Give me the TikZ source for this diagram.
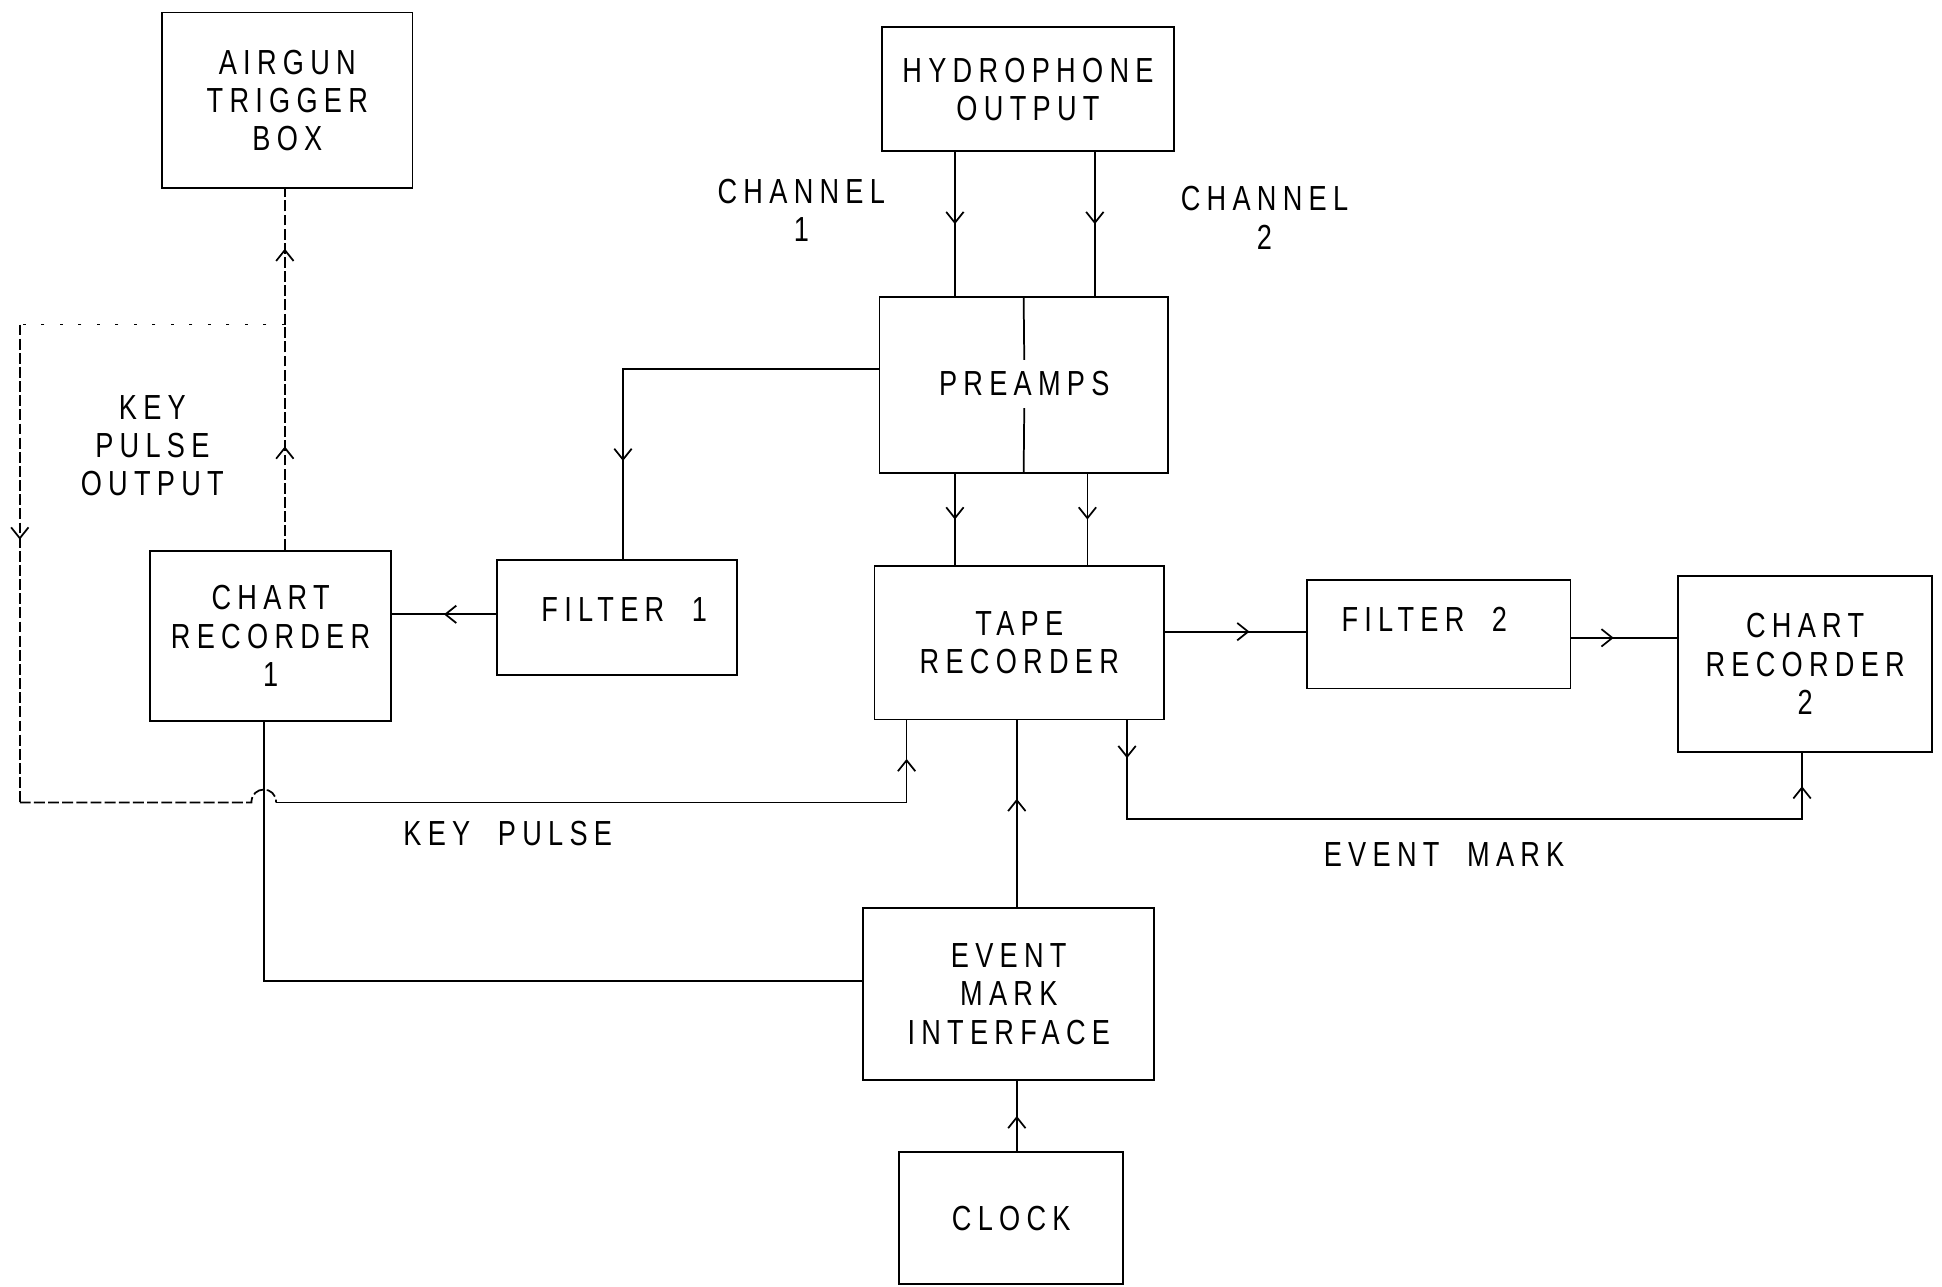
\documentclass[tikz,border=0pt]{standalone}
\usepackage{fontspec}
\setmainfont{Liberation Sans}[FakeStretch=0.78,LetterSpace=18]
\usetikzlibrary{arrows.meta,decorations.markings}
\newcommand\boxfont{\fontsize{16pt}{17.6pt}\selectfont}
\begin{document}
\begin{tikzpicture}[x=0.02cm,y=-0.02cm, line width=0.8pt,
  box/.style={draw, rectangle, inner sep=0pt, align=center, font=\boxfont},
  lbl/.style={align=center, font=\boxfont, inner sep=0pt},
  midarr/.style={decoration={markings, mark=at position #1 with {\arrow{Straight Barb[length=5pt,width=8pt]}}}, postaction={decorate}},
  twoarr/.style 2 args={decoration={markings,
     mark=at position #1 with {\arrow{Straight Barb[length=5pt,width=8pt]}},
     mark=at position #2 with {\arrow{Straight Barb[length=5pt,width=8pt]}}}, postaction={decorate}},
  faint/.style={dash pattern=on 5pt off 1.5pt},
  sparse/.style={dash pattern=on 1.5pt off 7pt}]
\useasboundingbox[fill=white] (0,0) rectangle (1568,1039);

% boxes
\node[box, minimum width=4.04cm, minimum height=2.84cm] (airgun) at (232,81) {AIRGUN\\TRIGGER\\BOX};
\node[box, minimum width=4.72cm, minimum height=2.0cm] (hydro) at (830,72) {HYDROPHONE\\OUTPUT};
\node[box, minimum width=4.66cm, minimum height=2.84cm] (pre) at (826.5,311) {};
\node[lbl, inner sep=5pt] (pret) at (827,310) {PREAMPS};
\node[box, minimum width=3.88cm, minimum height=1.86cm] (f1) at (498,498.5) {};
\node[lbl] (f1t) at (504,492) {FILTER\ \ 1};
\node[box, minimum width=3.9cm, minimum height=2.74cm] (c1) at (218.5,513.5) {CHART\\RECORDER\\1};
\node[box, minimum width=4.68cm, minimum height=2.48cm] (tape) at (823,519) {TAPE\\RECORDER};
\node[box, minimum width=4.26cm, minimum height=1.76cm] (f2) at (1161.5,512) {};
\node[lbl] (f2t) at (1150,500) {FILTER\ \ 2};
\node[box, minimum width=4.1cm, minimum height=2.84cm] (c2) at (1457.5,536) {CHART\\RECORDER\\2};
\node[box, minimum width=4.7cm, minimum height=2.78cm] (ev) at (814.5,802.5) {EVENT\\MARK\\INTERFACE};
\node[box, minimum width=3.62cm, minimum height=2.14cm] (clock) at (816.5,983.5) {CLOCK};

\draw (pre.north) -- (pret.north);
\draw (pret.south) -- (pre.south);

% labels
\node[lbl] (ch1) at (647,170) {CHANNEL\\1};
\node[lbl] (ch2) at (1021,176) {CHANNEL\\2};
\node[lbl] (kpo) at (123,360) {KEY\\PULSE\\OUTPUT};
\node[lbl] (labkp) at (410,673) {KEY\ \ PULSE};
\node[lbl] (labem) at (1166,690) {EVENT\ \ MARK};

% helper coordinates
\coordinate (xa) at (771,0);
\coordinate (xb) at (884,0);
\coordinate (xc) at (878,0);
\coordinate (xf) at (503,0);
\coordinate (xk) at (230,0);
\coordinate (xl) at (16,0);
\coordinate (xh) at (213,0);
\coordinate (xt) at (732,0);
\coordinate (xe) at (910,0);
\coordinate (xr) at (1455,0);
\coordinate (xv) at (821,0);
\coordinate (yp) at (0,298);
\coordinate (yf1) at (0,496);
\coordinate (yf2) at (0,510);
\coordinate (yc2) at (0,515);
\coordinate (yk) at (0,262);
\coordinate (ykp) at (0,648);
\coordinate (yem) at (0,661);
\coordinate (ycr) at (0,792);
\coordinate (kpj) at (230,262);
\coordinate (kpl) at (16,262);
\coordinate (kpb) at (16,648);
\coordinate (hopa) at (203,648);
\coordinate (hopb) at (223,648);

% connectors
\draw[midarr=0.5] (hydro.south -| xa) -- (pre.north -| xa);
\draw[midarr=0.5] (hydro.south -| xb) -- (pre.north -| xb);
\draw[midarr=0.5] (pre.south -| xa) -- (tape.north -| xa);
\draw[midarr=0.5] (pre.south -| xc) -- (tape.north -| xc);
\draw[midarr=0.78] (pre.west |- yp) -| (f1.north -| xf);
\draw[midarr=0.5] (f1.west |- yf1) -- (c1.east |- yf1);
\draw[midarr=0.6] (tape.east |- yf2) -- (f2.west |- yf2);
\draw[midarr=0.4] (f2.east |- yc2) -- (c2.west |- yc2);
\draw[twoarr={0.045}{0.96}] (tape.south -| xe) |- (yem -| xr) -- (c2.south -| xr);
\draw[midarr=0.58] (ev.north -| xv) -- (tape.south -| xv);
\draw[midarr=0.5] (clock.north -| xv) -- (ev.south -| xv);
\draw (c1.south -| xh) |- (ev.west |- ycr);

% key pulse loop
\draw[faint, midarr=0.46] (c1.north -| xk) -- (kpj);
\draw[faint, midarr=0.56] (kpj) -- (airgun.south -| xk);
\draw[sparse] (kpj) -- (kpl);
\draw[faint, midarr=0.45] (kpl) -- (kpb);
\draw[faint] (kpb) -- (hopa) .. controls (203,634) and (223,634) .. (hopb);
\draw[midarr=0.946] (hopb) -- (xt |- ykp) -- (tape.south -| xt);
\end{tikzpicture}
\end{document}
